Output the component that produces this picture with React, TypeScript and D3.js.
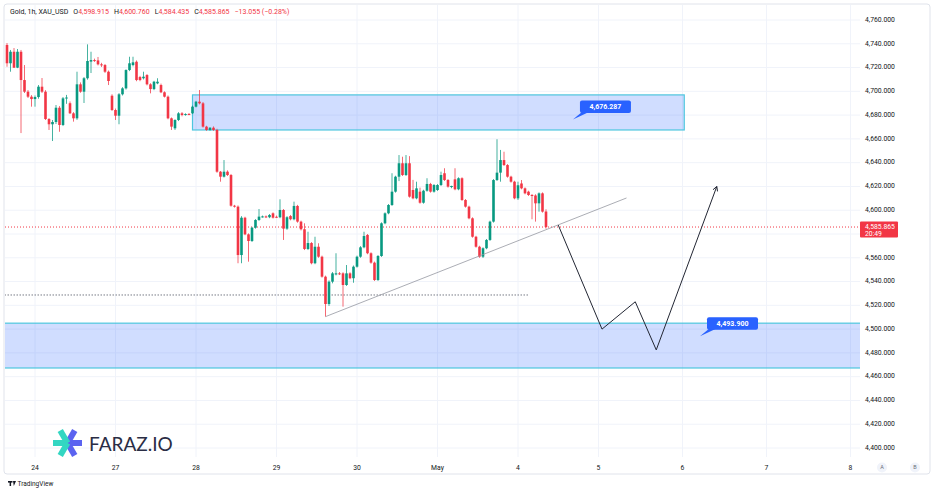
import React from "react";
import * as d3 from "d3";

const W = 936;
const H = 492;
const pane = { left: 5, right: 860, top: 5, bottom: 457 };

// hourly XAU/USD candles
const opens = [
  4739.0, 4723.6, 4733.3, 4719.9, 4733.3, 4709.5, 4699.7, 4695.5, 4693.5, 4695.2,
  4703.9, 4699.7, 4676.7, 4672.3, 4674.2, 4686.2, 4671.7, 4694.1, 4690.0, 4681.5,
  4677.3, 4705.9, 4699.7, 4711.0, 4725.0, 4726.3, 4726.0, 4722.7, 4722.1, 4716.5,
  4696.3, 4684.3, 4679.5, 4697.5, 4702.5, 4717.9, 4722.1, 4724.9, 4712.0, 4711.0,
  4713.7, 4705.9, 4701.9, 4706.7, 4705.3, 4699.2, 4695.5, 4677.3, 4668.9, 4675.9,
  4681.5, 4680.5, 4680.9, 4681.5, 4687.1, 4691.3, 4689.9, 4670.3, 4667.5, 4669.4,
  4667.5, 4632.4, 4628.2, 4632.4, 4629.6, 4603.8, 4603.0, 4562.3, 4593.7, 4579.7,
  4574.1, 4585.3, 4591.8, 4594.6, 4594.8, 4594.1, 4597.4, 4594.5, 4594.1, 4600.2,
  4584.5, 4595.1, 4592.4, 4603.6, 4590.4, 4584.0, 4567.4, 4572.4, 4555.4, 4569.3,
  4560.9, 4544.1, 4521.1, 4539.9, 4546.0, 4546.9, 4546.9, 4537.1, 4546.9, 4542.8,
  4552.5, 4560.9, 4568.8, 4579.2, 4563.8, 4555.9, 4541.3, 4561.5, 4589.0, 4597.4,
  4604.4, 4615.6, 4628.2, 4639.5, 4629.6, 4639.5, 4617.0, 4610.0, 4615.6, 4606.3,
  4616.4, 4622.1, 4615.6, 4617.0, 4621.2, 4631.1, 4625.4, 4619.5, 4626.0, 4617.6,
  4626.9, 4608.6, 4603.0, 4593.2, 4577.7, 4569.3, 4560.9, 4568.0, 4575.0, 4590.4,
  4625.4, 4631.6, 4642.2, 4638.0, 4628.2, 4624.0, 4610.0, 4622.5, 4618.4, 4615.6,
  4612.8, 4612.4, 4605.8, 4614.2, 4598.915,
];
const highs = [
  4740.6, 4734.8, 4736.4, 4735.6, 4734.8, 4722.1, 4701.1, 4696.8, 4696.5, 4705.3,
  4711.2, 4701.0, 4677.5, 4675.9, 4688.5, 4687.6, 4695.2, 4697.0, 4691.5, 4682.5,
  4716.5, 4707.5, 4712.0, 4739.5, 4733.3, 4727.5, 4728.9, 4724.0, 4723.0, 4717.5,
  4697.5, 4685.5, 4698.5, 4703.5, 4718.5, 4729.1, 4729.1, 4726.0, 4713.0, 4716.5,
  4714.5, 4706.8, 4708.8, 4711.0, 4706.5, 4700.0, 4696.5, 4678.0, 4676.5, 4682.5,
  4682.5, 4681.5, 4681.8, 4688.0, 4692.0, 4701.1, 4691.0, 4671.0, 4669.8, 4670.5,
  4668.5, 4633.0, 4642.2, 4633.5, 4630.5, 4604.5, 4604.0, 4595.0, 4594.5, 4580.5,
  4586.0, 4592.5, 4601.0, 4595.5, 4595.6, 4596.8, 4598.2, 4595.5, 4609.2, 4601.0,
  4595.0, 4596.0, 4607.2, 4604.5, 4591.2, 4589.0, 4581.9, 4573.2, 4577.7, 4572.2,
  4561.8, 4545.0, 4541.0, 4548.0, 4563.8, 4548.0, 4547.8, 4553.9, 4547.8, 4553.5,
  4561.8, 4569.8, 4581.9, 4580.0, 4564.6, 4556.8, 4562.3, 4589.8, 4598.2, 4605.2,
  4631.1, 4629.0, 4646.4, 4645.0, 4646.4, 4645.5, 4625.5, 4624.0, 4619.0, 4617.2,
  4626.9, 4623.0, 4622.0, 4622.0, 4632.4, 4635.3, 4626.2, 4620.6, 4635.3, 4627.7,
  4627.7, 4609.4, 4603.8, 4594.0, 4578.5, 4570.1, 4568.8, 4575.8, 4591.2, 4626.2,
  4659.7, 4650.7, 4649.2, 4638.8, 4629.0, 4624.8, 4624.0, 4625.4, 4619.2, 4616.4,
  4613.6, 4613.4, 4615.0, 4615.0, 4600.76,
];
const lows = [
  4720.7, 4716.5, 4719.6, 4719.5, 4664.9, 4698.6, 4694.4, 4687.1, 4687.1, 4693.8,
  4698.6, 4675.9, 4667.5, 4658.2, 4672.5, 4666.0, 4670.8, 4689.5, 4681.0, 4674.5,
  4676.0, 4698.8, 4690.2, 4709.8, 4715.4, 4724.8, 4721.8, 4720.5, 4715.5, 4705.3,
  4683.5, 4675.9, 4672.3, 4696.5, 4701.5, 4717.0, 4721.0, 4708.5, 4708.5, 4710.0,
  4705.0, 4698.3, 4701.0, 4706.0, 4698.5, 4694.8, 4676.5, 4667.5, 4667.5, 4675.0,
  4679.0, 4679.5, 4680.0, 4681.0, 4686.5, 4689.0, 4669.5, 4666.8, 4666.8, 4666.8,
  4631.5, 4624.0, 4627.5, 4628.8, 4603.0, 4602.2, 4555.4, 4555.4, 4579.0, 4556.7,
  4573.3, 4584.5, 4591.0, 4593.8, 4593.4, 4593.3, 4593.0, 4593.4, 4593.3, 4575.0,
  4583.5, 4591.5, 4591.5, 4589.5, 4583.0, 4566.5, 4566.5, 4554.5, 4554.6, 4560.0,
  4543.3, 4510.5, 4519.5, 4538.5, 4545.2, 4545.5, 4518.9, 4536.3, 4542.0, 4539.0,
  4551.7, 4560.0, 4568.0, 4563.0, 4555.0, 4540.5, 4540.5, 4560.7, 4588.2, 4596.6,
  4603.6, 4614.8, 4624.5, 4628.8, 4628.8, 4610.6, 4609.2, 4609.2, 4605.5, 4605.5,
  4615.6, 4614.8, 4614.8, 4616.2, 4620.4, 4624.6, 4619.0, 4618.5, 4616.8, 4616.8,
  4607.8, 4602.2, 4592.4, 4576.9, 4568.5, 4560.0, 4559.8, 4567.2, 4574.2, 4589.6,
  4624.6, 4624.0, 4637.2, 4627.4, 4623.2, 4609.2, 4608.6, 4617.6, 4613.4, 4612.0,
  4592.4, 4590.4, 4598.8, 4598.0, 4584.435,
];
const closes = [
  4723.6, 4733.3, 4719.9, 4733.3, 4709.5, 4699.7, 4695.5, 4693.5, 4695.2, 4703.9,
  4699.7, 4676.7, 4672.3, 4674.2, 4686.2, 4671.7, 4694.1, 4694.8, 4681.5, 4677.3,
  4705.9, 4699.7, 4711.0, 4725.5, 4726.3, 4726.0, 4722.7, 4722.1, 4716.5, 4708.7,
  4684.3, 4679.5, 4697.5, 4702.5, 4717.9, 4723.6, 4724.4, 4709.5, 4709.5, 4712.3,
  4705.9, 4701.9, 4708.1, 4708.1, 4699.2, 4695.5, 4677.3, 4670.3, 4675.9, 4681.5,
  4680.1, 4680.9, 4680.5, 4687.1, 4691.3, 4689.9, 4670.3, 4667.5, 4669.4, 4667.5,
  4632.4, 4628.2, 4632.4, 4629.6, 4603.8, 4603.0, 4562.3, 4593.7, 4579.7, 4574.1,
  4585.3, 4591.8, 4594.6, 4594.8, 4594.1, 4596.0, 4593.7, 4594.1, 4600.2, 4584.5,
  4594.1, 4592.4, 4603.6, 4590.4, 4584.0, 4567.4, 4572.4, 4555.4, 4569.3, 4560.9,
  4544.1, 4521.1, 4539.9, 4546.9, 4546.9, 4546.5, 4537.1, 4546.9, 4542.8, 4552.5,
  4560.9, 4568.8, 4578.3, 4563.8, 4555.9, 4541.3, 4561.5, 4589.0, 4597.4, 4604.4,
  4615.6, 4628.2, 4639.5, 4629.6, 4639.5, 4611.4, 4610.0, 4618.4, 4606.3, 4616.4,
  4622.1, 4615.6, 4621.2, 4621.2, 4629.6, 4625.4, 4619.8, 4620.4, 4617.6, 4626.9,
  4608.6, 4603.0, 4593.2, 4577.7, 4569.3, 4560.9, 4568.0, 4575.0, 4590.4, 4625.4,
  4631.6, 4642.2, 4638.0, 4628.2, 4624.0, 4610.0, 4621.0, 4618.4, 4614.2, 4612.8,
  4612.4, 4605.8, 4614.2, 4598.8, 4585.865,
];

// time axis: bar index of each day start
const dayTicks = [8, 31, 54, 77, 100, 123, 146, 169, 193, 217, 241];
const dayLabels = ["24", "27", "28", "29", "30", "May", "4", "5", "6", "7", "8"];

const priceTicks = [
  4400, 4420, 4440, 4460, 4480, 4500, 4520, 4540, 4560, 4580, 4600, 4620, 4640,
  4660, 4680, 4700, 4720, 4740, 4760,
];

// drawings (bar index, price)
const upperZone = { from: 53, to: 193.5, top: 4697, bottom: 4667.5 };
const lowerZone = { from: -5, to: 260, top: 4505, bottom: 4467.3 };
const trendLine = [
  [91, 4510.5],
  [177, 4610.3],
];
const projection = [
  [157.5, 4587.5],
  [170, 4500],
  [179.5, 4523],
  [185.5, 4482.5],
  [202.8, 4620],
];
const supportLevel = { from: -5, to: 149, price: 4528.7 };
const callouts = [
  { i: 161.7, price: 4676.287, label: "4,676.287" },
  { i: 198, price: 4493.9, label: "4,493.900" },
];

const header = [
  { k: "O", v: "4,598.915" },
  { k: "H", v: "4,600.760" },
  { k: "L", v: "4,584.435" },
  { k: "C", v: "4,585.865" },
];

const UP = "#089981";
const DOWN = "#f23645";
const FONT = "Roboto, 'Noto Sans', sans-serif";

const x = d3.scaleLinear().domain([0, 241]).range([7, 850.5]);
const y = d3.scaleLinear().domain([4400, 4760]).range([448, 20]);
const fmt = d3.format(",.3f");

const Callout = ({ i, price, label }: { i: number; price: number; label: string }) => {
  const ax = x(i);
  const ay = y(price);
  const bx = ax + 7;
  const by = ay - 19;
  const bw = 51;
  const bh = 12.5;
  return (
    <g>
      <path
        d={`M${ax},${ay} L${bx + 2},${by + bh - 1} L${bx + 9},${by + bh - 1} Z`}
        fill="#2962ff"
      />
      <rect x={bx} y={by} width={bw} height={bh} rx={2} fill="#2962ff" />
      <text
        x={bx + bw / 2}
        y={by + bh / 2 + 0.5}
        fill="#fff"
        fontSize={7}
        fontWeight={700}
        textAnchor="middle"
        dominantBaseline="middle"
      >
        {label}
      </text>
    </g>
  );
};

export default function App() {
  const last = closes[closes.length - 1];
  const yLast = y(last);
  const line = d3
    .line<number[]>()
    .x((d) => x(d[0]))
    .y((d) => y(d[1]));

  const pEnd = projection[projection.length - 1];
  const pPrev = projection[projection.length - 2];
  const ang = Math.atan2(y(pEnd[1]) - y(pPrev[1]), x(pEnd[0]) - x(pPrev[0]));
  const ex = x(pEnd[0]);
  const ey = y(pEnd[1]);
  const ah = 5;
  const arrow = `M${ex + ah * Math.cos(ang + Math.PI - 0.5)},${ey + ah * Math.sin(ang + Math.PI - 0.5)} L${ex},${ey} L${ex + ah * Math.cos(ang + Math.PI + 0.5)},${ey + ah * Math.sin(ang + Math.PI + 0.5)}`;

  const cx = 67.5;
  const cy = 443;
  const arms = [
    { a: 0, c: "#5b63f0" },
    { a: 60, c: "#5b63f0" },
    { a: 300, c: "#5b63f0" },
    { a: 120, c: "#33d6c2" },
    { a: 180, c: "#33d6c2" },
    { a: 240, c: "#33d6c2" },
  ];

  return (
    <div style={{ position: "absolute", left: 0, top: 0 }}>
      <svg width={W} height={H} style={{ display: "block", fontFamily: FONT, background: "#fff" }}>
        <defs>
          <clipPath id="pane">
            <rect x={pane.left} y={pane.top} width={pane.right - pane.left} height={pane.bottom - pane.top} />
          </clipPath>
        </defs>
        <rect x={4} y={4} width={926} height={470} rx={3} fill="#fff" stroke="#e0e3eb" />

        {/* grid */}
        <g stroke="#f0f3fa" strokeWidth={1}>
          {priceTicks.map((p) => (
            <line key={p} x1={pane.left} x2={pane.right} y1={y(p)} y2={y(p)} />
          ))}
          {dayTicks.map((d) => (
            <line key={d} x1={x(d)} x2={x(d)} y1={pane.top} y2={pane.bottom} />
          ))}
        </g>

        <g clipPath="url(#pane)">
          {/* zones */}
          {[upperZone, lowerZone].map((z, k) => (
            <rect
              key={k}
              x={x(z.from)}
              y={y(z.top)}
              width={x(z.to) - x(z.from)}
              height={y(z.bottom) - y(z.top)}
              fill="rgba(41,98,255,0.22)"
              stroke="#4dc6de"
              strokeWidth={1.2}
            />
          ))}

          {/* support dotted line */}
          <line
            x1={x(supportLevel.from)}
            x2={x(supportLevel.to)}
            y1={y(supportLevel.price)}
            y2={y(supportLevel.price)}
            stroke="#787b86"
            strokeDasharray="1.5 1.5"
          />

          {/* last price line */}
          <line x1={pane.left} x2={pane.right} y1={yLast} y2={yLast} stroke={DOWN} strokeDasharray="1 2" strokeWidth={1} />

          {/* candles */}
          {closes.map((c, i) => {
            const o = opens[i];
            const col = c >= o ? UP : DOWN;
            const top = y(Math.max(o, c));
            const h = Math.max(1, Math.abs(y(o) - y(c)));
            return (
              <g key={i}>
                <line x1={x(i)} x2={x(i)} y1={y(highs[i])} y2={y(lows[i])} stroke={col} strokeWidth={1} opacity={0.75} />
                <rect x={x(i) - 1.3} y={top} width={2.6} height={h} fill={col} />
              </g>
            );
          })}

          {/* trend line */}
          <path d={line(trendLine) || ""} fill="none" stroke="#9598a1" strokeWidth={0.8} />

          {/* projected path */}
          <path d={line(projection) || ""} fill="none" stroke="#222633" strokeWidth={1} />
          <path d={arrow} fill="none" stroke="#222633" strokeWidth={1} />

          {callouts.map((c) => (
            <Callout key={c.label} {...c} />
          ))}
        </g>

        {/* header */}
        <text x={10} y={14} fontSize={7} fill="#131722">
          <tspan>Gold, 1h, XAU_USD</tspan>
          {header.map((h) => (
            <tspan key={h.k}>
              <tspan dx={5}>{h.k}</tspan>
              <tspan fill={DOWN}>{h.v}</tspan>
            </tspan>
          ))}
          <tspan dx={5} fill={DOWN}>
            −13.055 (−0.28%)
          </tspan>
        </text>

        {/* price axis */}
        <g fontSize={6.8} fill="#131722">
          {priceTicks.map((p) =>
            p === 4580 ? null : (
              <text key={p} x={865} y={y(p)} dominantBaseline="middle">
                {fmt(p)}
              </text>
            )
          )}
        </g>
        <rect x={860} y={yLast - 5.5} width={38} height={16} rx={1} fill={DOWN} />
        <text x={865} y={yLast + 0.5} fontSize={6.8} fill="#fff" dominantBaseline="middle">
          {fmt(last)}
        </text>
        <text x={865} y={yLast + 7.5} fontSize={6.8} fill="#fff" dominantBaseline="middle">
          20:49
        </text>

        {/* time axis */}
        <g fontSize={6.8} fill="#131722" textAnchor="middle">
          {dayTicks.map((d, k) => (
            <text key={d} x={x(d)} y={468} dominantBaseline="middle">
              {dayLabels[k]}
            </text>
          ))}
        </g>
        {[
          { cx: 882, t: "A" },
          { cx: 915, t: "B" },
        ].map((b) => (
          <g key={b.t}>
            <circle cx={b.cx} cy={467.5} r={5} fill="#f0f3fa" />
            <text x={b.cx} y={468} fontSize={5.5} fill="#6a6d78" textAnchor="middle" dominantBaseline="middle">
              {b.t}
            </text>
          </g>
        ))}

        {/* watermark logo */}
        <g strokeWidth={6} strokeLinecap="butt">
          {arms.map((a) => {
            const r = (a.a * Math.PI) / 180;
            return (
              <line
                key={a.a}
                x1={cx}
                y1={cy}
                x2={cx + 14.5 * Math.cos(r)}
                y2={cy - 14.5 * Math.sin(r)}
                stroke={a.c}
              />
            );
          })}
        </g>
        <text x={89} y={451} fontSize={19} fill="#2a2d45" fontFamily="Lato, 'Open Sans', sans-serif">
          FARAZ.IO
        </text>

        {/* footer */}
        <g fill="#131722">
          <rect x={8} y={481} width={4.5} height={1.6} />
          <rect x={9.6} y={481} width={1.5} height={5} />
          <path d="M13,481 L16,481 L13.8,486 Z" />
        </g>
        <text x={17.5} y={484} fontSize={6.5} fill="#131722" dominantBaseline="middle">
          TradingView
        </text>
      </svg>
    </div>
  );
}
